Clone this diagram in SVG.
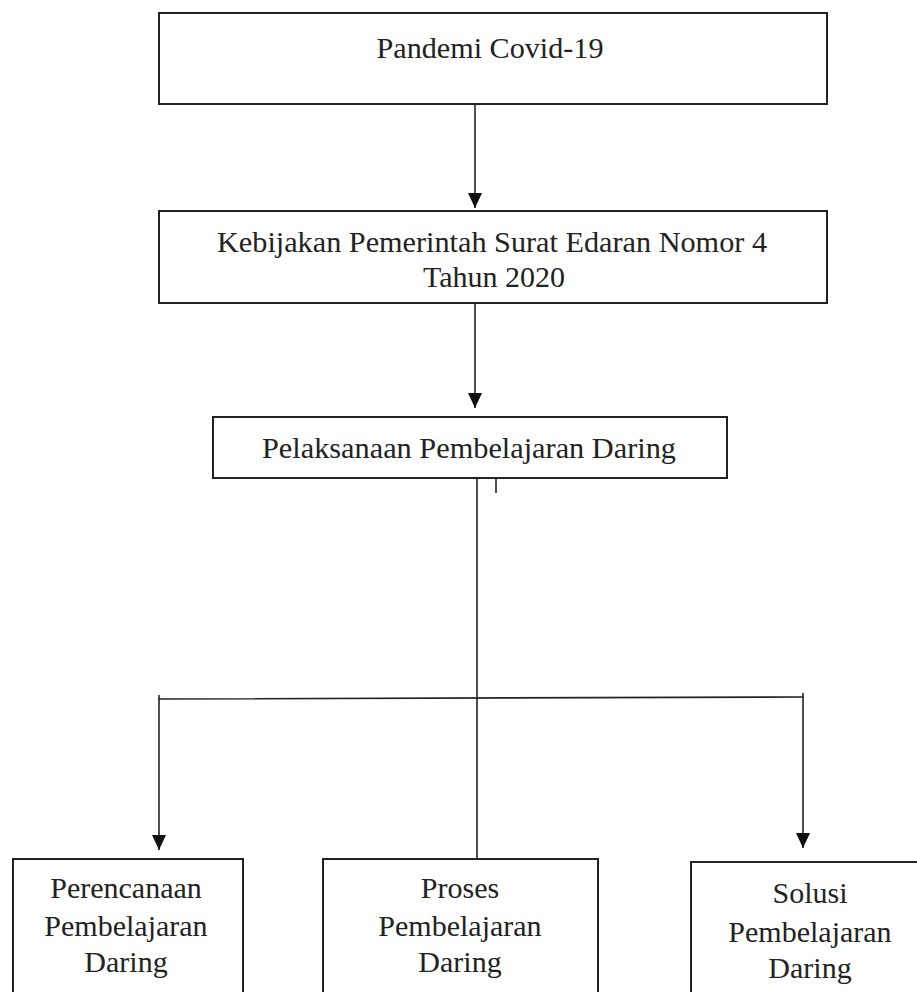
<svg xmlns="http://www.w3.org/2000/svg" width="917" height="992" viewBox="0 0 917 992">
<style>
.box{fill:#fff;stroke:#222;stroke-width:2}
.ln{fill:none;stroke:#222;stroke-width:1.6}
text{font-family:"Liberation Serif","Times New Roman",serif;font-size:30px;fill:#222;text-anchor:middle}
</style>
<defs>
<marker id="ah" markerWidth="14" markerHeight="15" refX="7" refY="15" orient="auto" markerUnits="userSpaceOnUse" viewBox="0 0 14 15">
<path d="M0,0 L14,0 L7,15 Z" fill="#111"/>
</marker>
</defs>
<rect width="917" height="992" fill="#fff"/>
<g id="connectors">
<line class="ln" x1="475" y1="104" x2="475" y2="208"/>
<path d="M468,193 L482,193 L475,208 Z" fill="#111"/>
<line class="ln" x1="475" y1="303" x2="475" y2="408"/>
<path d="M468,393 L482,393 L475,408 Z" fill="#111"/>
<line class="ln" x1="477" y1="479" x2="477" y2="859"/>
<line class="ln" x1="496" y1="452" x2="496" y2="493"/>
<path class="ln" d="M159,695 L159,699 L803,697 L803,693" stroke-width="2"/>
<line class="ln" x1="159" y1="699" x2="159" y2="850"/>
<path d="M152,835 L166,835 L159,850 Z" fill="#111"/>
<line class="ln" x1="803" y1="697" x2="803" y2="848"/>
<path d="M796,833 L810,833 L803,848 Z" fill="#111"/>
</g>
<g id="node-pandemi">
<rect class="box" x="159" y="13" width="668" height="91"/>
<text x="490" y="58" textLength="227" lengthAdjust="spacingAndGlyphs">Pandemi Covid-19</text>
</g>
<g id="node-kebijakan">
<rect class="box" x="159" y="211" width="668" height="92"/>
<text x="492" y="252" textLength="550" lengthAdjust="spacingAndGlyphs">Kebijakan Pemerintah Surat Edaran Nomor 4</text>
<text x="494" y="287">Tahun 2020</text>
</g>
<g id="node-pelaksanaan">
<rect class="box" x="213" y="417" width="514" height="61"/>
<text x="469" y="458" textLength="414" lengthAdjust="spacingAndGlyphs">Pelaksanaan Pembelajaran Daring</text>
</g>
<g id="node-perencanaan">
<rect class="box" x="13" y="859" width="230" height="150"/>
<text x="126" y="898">Perencanaan</text>
<text x="126" y="936">Pembelajaran</text>
<text x="126" y="972">Daring</text>
</g>
<g id="node-proses">
<rect class="box" x="323" y="859" width="275" height="150"/>
<text x="460" y="898">Proses</text>
<text x="460" y="936">Pembelajaran</text>
<text x="460" y="972">Daring</text>
</g>
<g id="node-solusi">
<rect class="box" x="691" y="862" width="240" height="150"/>
<text x="810" y="903">Solusi</text>
<text x="810" y="942">Pembelajaran</text>
<text x="810" y="978">Daring</text>
</g>
</svg>
